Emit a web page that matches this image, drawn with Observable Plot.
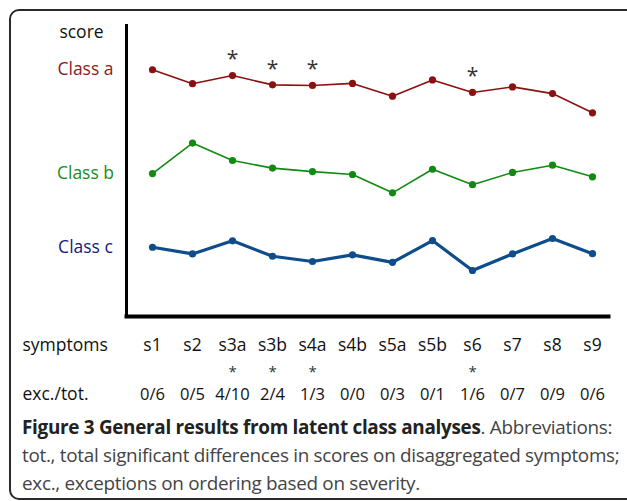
<!DOCTYPE html>
<html>
<head>
<meta charset="utf-8">
<script src="https://cdn.jsdelivr.net/npm/d3@7"></script>
<script src="https://cdn.jsdelivr.net/npm/@observablehq/plot@0.6"></script>
<style>
  html, body { margin: 0; padding: 0; background: #fff; }
  body { width: 627px; height: 501px; position: relative; overflow: hidden; font-family: "Open Sans", sans-serif; }
  #box { position: absolute; left: 9px; top: 9px; width: 630px; height: 491px;
         border: 2px solid #2a2a2a; border-radius: 10px; box-sizing: border-box; }
  #chart { position: absolute; left: 0; top: 0; }
  #caption { position: absolute; left: 22px; top: 413px; font-size: 18.9px; white-space: nowrap;
             line-height: 28px; color: #444; letter-spacing: -0.3px; }
  #caption b { color: #222; }
</style>
</head>
<body>
<div id="box"></div>
<div id="chart"></div>
<div id="caption"><b>Figure 3 General results from latent class analyses</b>. Abbreviations:<br>tot., total significant differences in scores on disaggregated symptoms;<br>exc., exceptions on ordering based on severity.</div>
<script>
// ---- data ----
const symptoms = ["s1","s2","s3a","s3b","s4a","s4b","s5a","s5b","s6","s7","s8","s9"];
const excTot   = ["0/6","0/5","4/10","2/4","1/3","0/0","0/3","0/1","1/6","0/7","0/9","0/6"];
const starred  = ["s3a","s3b","s4a","s6"];
const classNames = ["Class a","Class b","Class c"];
const classA = [84.8, 80.0, 82.8, 79.6, 79.4, 80.1, 75.7, 81.3, 77.0, 78.9, 76.6, 70.0];
const classB = [49.1, 59.6, 53.6, 51.0, 49.8, 48.8, 42.5, 50.6, 45.3, 49.5, 52.0, 48.0];
const classC = [23.8, 21.5, 26.0, 20.7, 18.9, 21.2, 18.6, 26.1, 15.8, 21.5, 26.8, 21.6];

const lineColors = {"Class a": "#8b1111", "Class b": "#128a12", "Class c": "#0e4c8c"};
const textColors = {"Class a": "#8b1a1a", "Class b": "#1a8c1a", "Class c": "#14217a"};
const widths = {"Class a": 1.6, "Class b": 1.6, "Class c": 3.2};

const series = [classA, classB, classC];
const rows = [];
classNames.forEach((name, i) => {
  symptoms.forEach((s, j) => rows.push({cls: name, symptom: s, score: series[i][j]}));
});
const labels = classNames.map((name, i) => ({cls: name, score: series[i][0]}));
const starRows = rows.filter(d => d.cls === "Class a" && starred.includes(d.symptom));

const font = "Open Sans, sans-serif";
const fs = 17.5;
const marks = [
  Plot.frame({anchor: "left", stroke: "#000", strokeWidth: 3}),
  Plot.frame({anchor: "bottom", stroke: "#000", strokeWidth: 4}),
  ...classNames.map(name => Plot.line(rows.filter(d => d.cls === name), {
    x: "symptom", y: "score", stroke: lineColors[name], strokeWidth: widths[name]
  })),
  ...classNames.map(name => Plot.dot(rows.filter(d => d.cls === name), {
    x: "symptom", y: "score", fill: lineColors[name], r: 3.6, stroke: "none"
  })),
  Plot.text(starRows, {x: "symptom", y: "score", text: () => "*", dy: -16, fontSize: 21, fill: "#333"}),
  Plot.text(labels, {y: "score", text: "cls", frameAnchor: "left", textAnchor: "middle", lineAnchor: "middle",
    dx: -41, fill: d => textColors[d.cls], fontSize: fs, fontWeight: 500}),
  Plot.text(["score"], {frameAnchor: "top-left", textAnchor: "middle", lineAnchor: "middle", text: d => d,
    dx: -45, dy: 7, fontSize: fs, fill: "#111"}),
  Plot.text(symptoms, {x: d => d, text: d => d, frameAnchor: "bottom", lineAnchor: "middle", dy: 29, fontSize: fs, fill: "#111"}),
  Plot.text(["symptoms"], {frameAnchor: "bottom-left", lineAnchor: "middle", text: d => d, dx: -104, dy: 29,
    textAnchor: "start", fontSize: fs, fill: "#111"}),
  Plot.text(starred, {x: d => d, text: () => "*", frameAnchor: "bottom", lineAnchor: "middle", dy: 56, fontSize: 15, fill: "#333"}),
  Plot.text(symptoms, {x: d => d, text: (d, i) => excTot[i], frameAnchor: "bottom", lineAnchor: "middle", dy: 78,
    fontSize: 16.5, fill: "#111"}),
  Plot.text(["exc./tot."], {frameAnchor: "bottom-left", lineAnchor: "middle", text: d => d, dx: -104, dy: 78,
    textAnchor: "start", fontSize: fs, fill: "#111"})
];

const chart = Plot.plot({
  width: 627,
  height: 405,
  marginLeft: 126,
  marginRight: 19,
  marginTop: 25,
  marginBottom: 89,
  style: {fontFamily: font, background: "transparent", overflow: "visible"},
  x: {type: "point", domain: symptoms, range: [150, 594], padding: 0, axis: null},
  y: {domain: [0, 100], axis: null},
  marks
});
document.getElementById("chart").appendChild(chart);
</script>
</body>
</html>
